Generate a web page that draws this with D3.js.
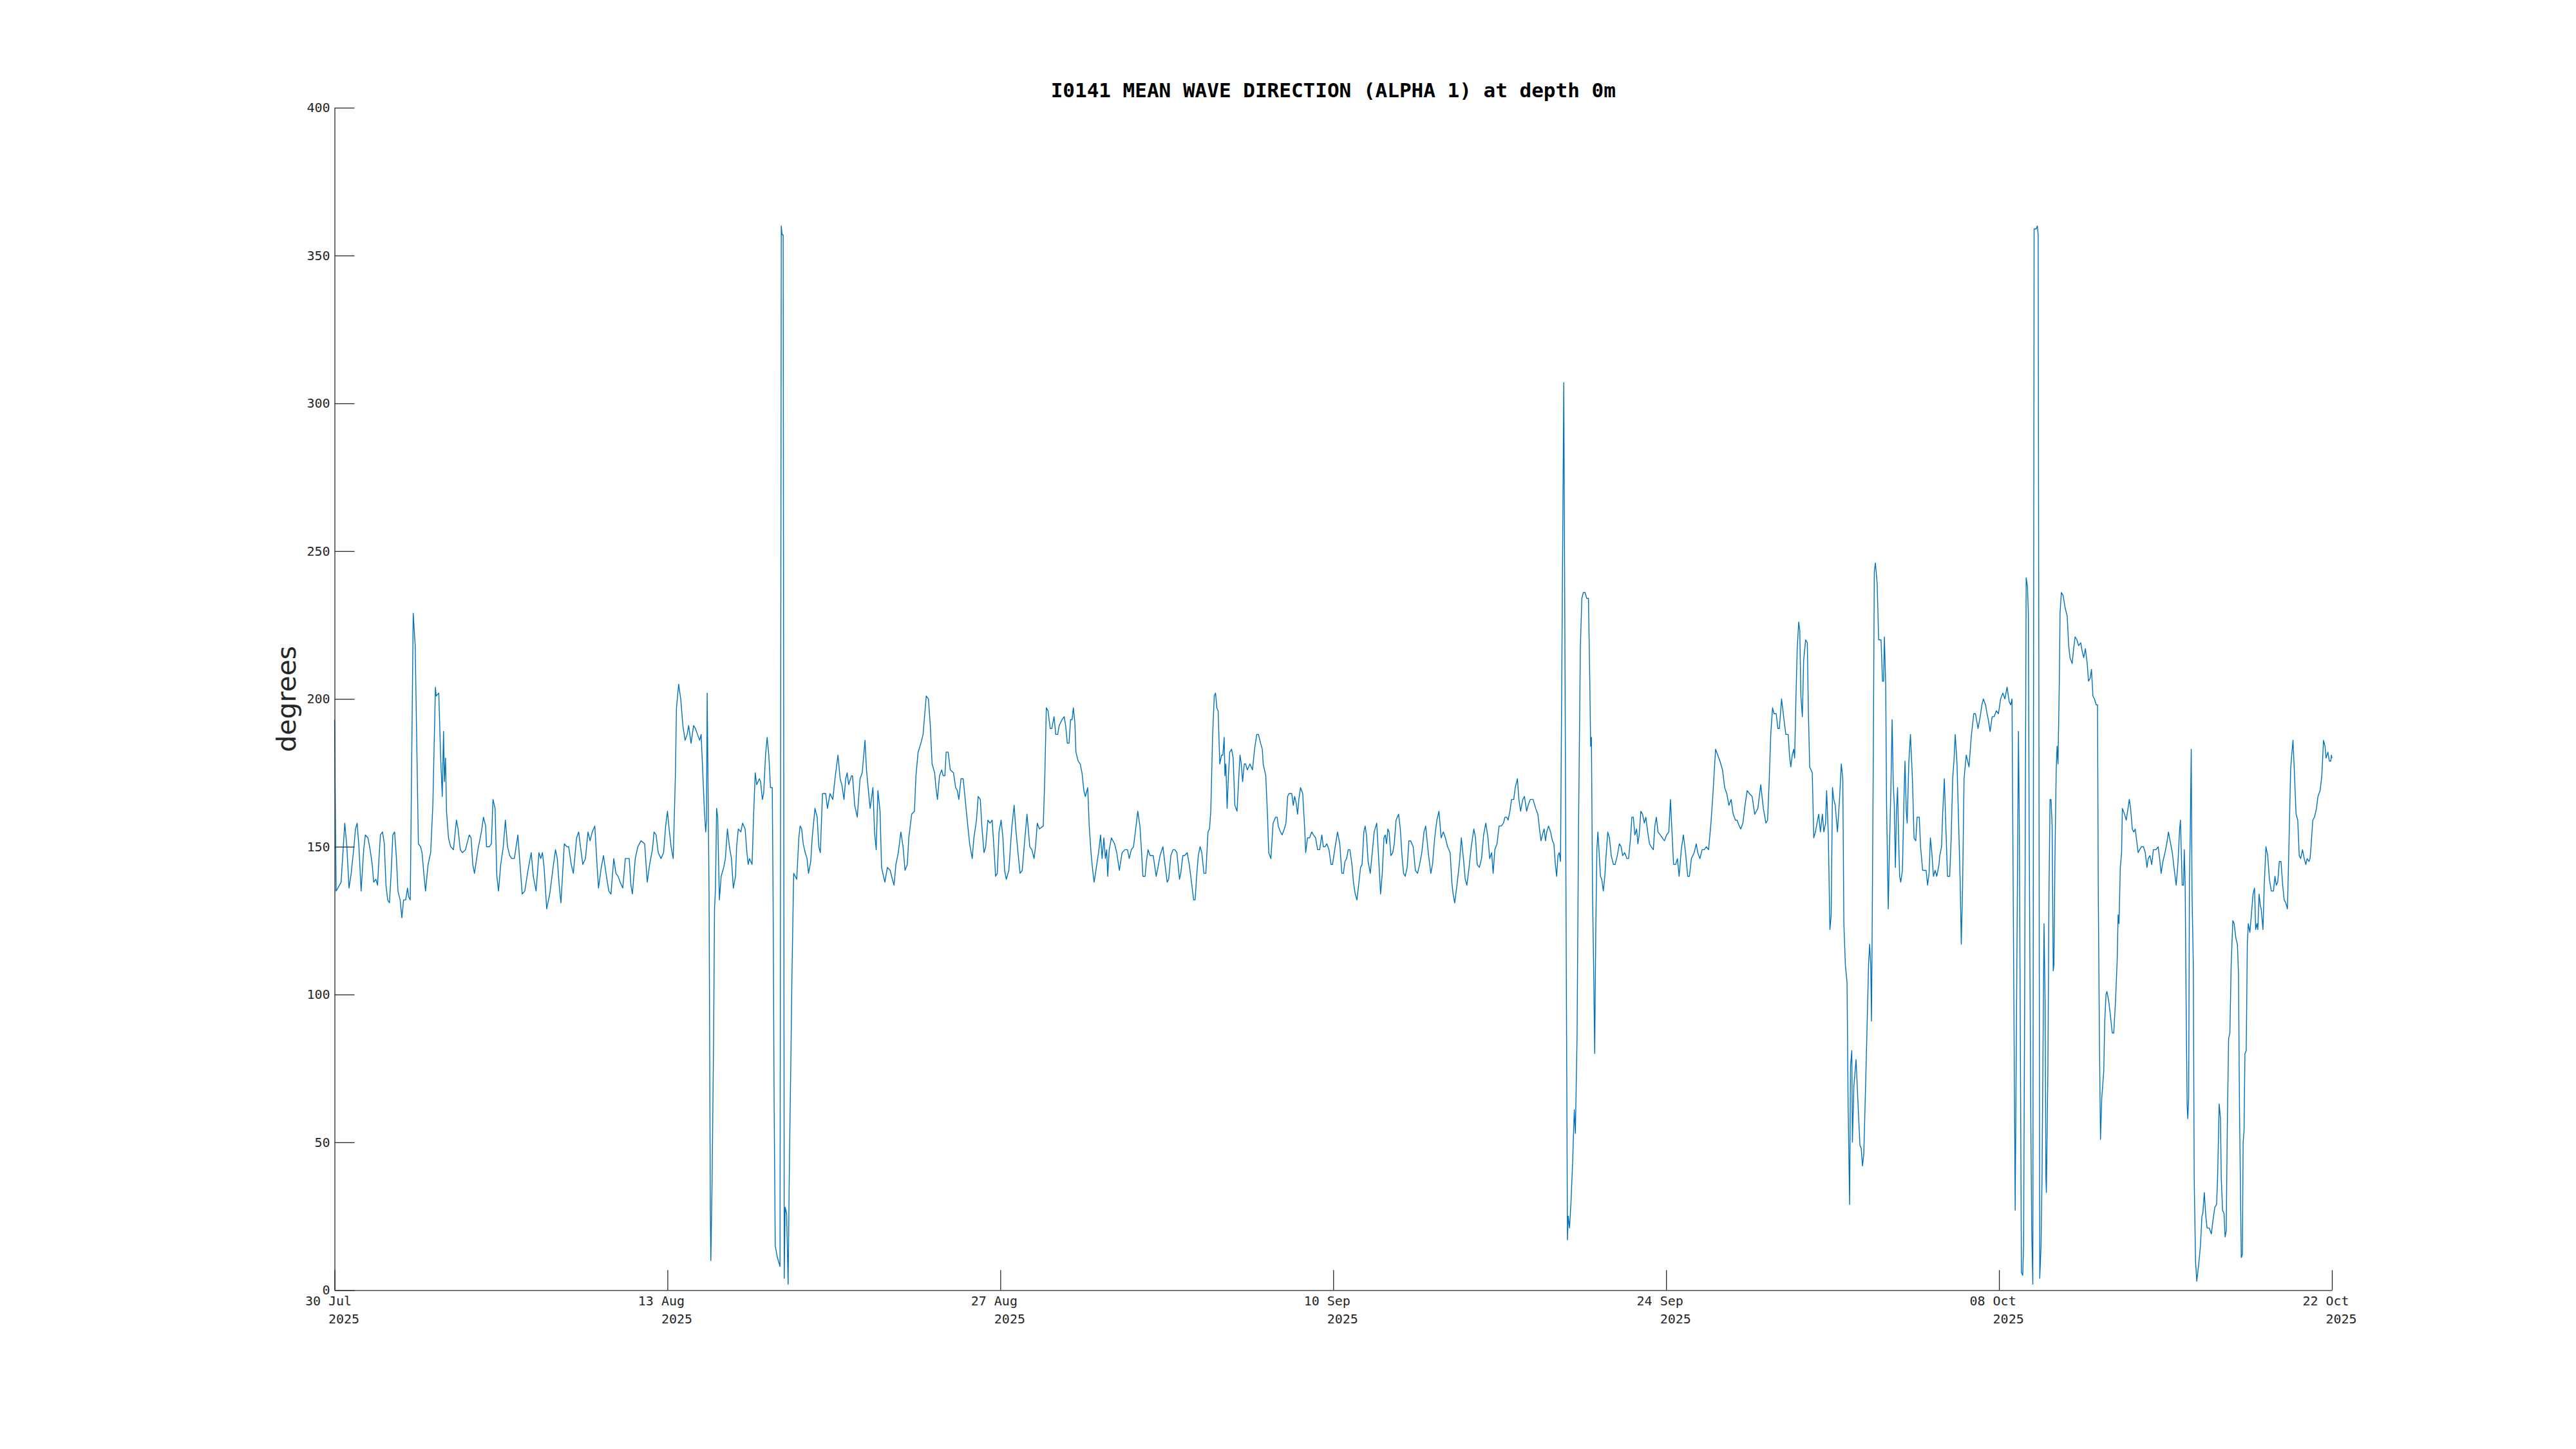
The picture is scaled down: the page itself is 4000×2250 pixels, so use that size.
<!DOCTYPE html>
<html>
<head>
<meta charset="utf-8">
<script src="https://cdn.jsdelivr.net/npm/d3@7"></script>
<style>
  html, body { margin: 0; padding: 0; background: #ffffff; }
  svg { display: block; }
</style>
</head>
<body>
<svg id="chart" width="4000" height="2250"></svg>
<script>
// ---------------- DATA ----------------
const chartTitle = "I0141 MEAN WAVE DIRECTION (ALPHA 1) at depth 0m";
const yLabel = "degrees";
const startDate = "2025-07-30T00:00:00Z";
const endDate = "2025-10-22T00:00:00Z";
const yTicks = [0, 50, 100, 150, 200, 250, 300, 350, 400];
const xTickDates = ["2025-07-30", "2025-08-13", "2025-08-27", "2025-09-10", "2025-09-24", "2025-10-08", "2025-10-22"];
const xTickDayLabels = ["30 Jul", "13 Aug", "27 Aug", "10 Sep", "24 Sep", "08 Oct", "22 Oct"];
const xTickYearLabels = ["2025", "2025", "2025", "2025", "2025", "2025", "2025"];

// [hours since 30 Jul 2025 00:00 UTC, mean wave direction in degrees]
const meanDirection = [
[0,193],[1.6,135],[3.3,136],[6.6,138],[10.3,158],[12.4,150],[14.6,136],[16.8,141],[19.6,150],[21.1,156],[22.8,158],[24.6,150],[26.8,135],[29.4,149],[31.1,154],[33.7,153],[35.9,149],[38.0,144],[39.5,138],[41.7,139],[43.4,137],[44.5,144],[46.3,154],[48.4,155],[50.2,151],[51.9,137],[53.6,132],[55.4,131],[57.1,141],[58.8,154],[60.6,155],[62.3,147],[64.0,135],[66.2,132],[67.9,126],[69.7,132],[71.8,132],[73.6,136],[74.9,133],[76.4,132],[79.4,229],[81.4,218],[84.6,151],[86.8,150],[88.3,148],[90.1,141],[91.8,135],[94.4,144],[97.0,148],[99.2,164],[101.8,204],[102.6,201],[105.2,202],[107.0,181],[108.7,167],[110.0,189],[110.9,172],[112.0,180],[113.0,162],[115.0,153],[117.2,150],[120.0,149],[123.0,159],[124.7,156],[126.9,149],[129.1,148],[132.1,149],[136.0,154],[137.8,153],[139.5,144],[141.2,141],[144.7,149],[148.2,155],[150.3,160],[152.5,157],[153.4,150],[156.2,150],[158.3,151],[159.9,166],[162.0,163],[163.8,140],[165.5,135],[167.7,144],[170.3,150],[172.4,159],[174.6,150],[176.8,147],[178.9,146],[181.5,146],[185.0,154],[187.2,144],[189.4,134],[192.0,135],[195.2,142],[198.5,148],[200.6,140],[203.4,135],
[206.3,148],[208.1,146],[209.8,148],[211.5,143],[214.1,129],[217.2,134],[220.6,143],[223.0,149],[224.8,146],[226.7,137],[228.5,131],[231.9,151],[234.5,150],[236.3,150],[238.9,144],[241.0,141],[244.3,153],[246.4,155],[248.6,149],[250.6,144],[253.2,146],[255.8,155],[257.9,152],[260.1,155],[262.7,157],[264.9,144],[266.4,136],[269.2,143],[271.4,147],[274.0,141],[276.8,135],[279.0,134],[281.8,146],[284.0,141],[286.1,140],[288.3,138],[290.9,136],[293.5,146],[297.4,146],[299.1,137],[300.6,134],[303.5,146],[306.1,150],[309.3,152],[313.0,151],[315.6,138],[318.0,144],[320.8,149],[322.5,155],[324.5,154],[326.7,148],[329.5,146],[332.1,148],[334.2,157],[336.0,162],[337.7,156],[339.7,150],[341.8,146],[344.0,174],[345.1,197],[347.3,205],[349.4,200],[351.6,191],[353.8,186],[355.9,188],[357.4,191],[359.8,185],[362.4,191],[364.2,190],[366.3,188],[368.5,186],[370.0,188],[371.8,174],[373.3,162],[374.6,155],[375.4,159],[376.1,202],[376.7,181],[378.0,134],[379.3,27],[379.8,10],[381.1,38],[382.6,86],[383.5,129],[384.5,136],[385.6,163],[386.7,160],[388.4,132],[390.2,140],[392.8,143],[394.5,146],[396.5,156],[398.6,150],[400.6,146],[402.5,136],[404.7,140],
[405.8,150],[407.5,156],[410.1,155],[411.8,158],[414.4,156],[416.2,148],[417.5,144],[418.8,146],[421.4,144],[423.1,162],[424.6,175],[426.1,171],[428.7,173],[430.0,172],[431.8,166],[433.1,168],[435.0,181],[436.6,187],[438.3,181],[440.0,170],[441.8,170],[442.6,134],[443.7,62],[444.8,15],[447.0,11],[449.6,8],[450.9,360],[451.7,357],[452.8,357],[453.9,4],[454.8,28],[456.3,26],[457.8,2],[459.1,43],[460.4,74],[461.7,107],[463.4,141],[466.5,139],[468.6,153],[469.9,157],[471.5,156],[473.0,151],[475.1,148],[476.9,146],[478.4,141],[480.6,145],[482.1,153],[484.9,163],[487.1,160],[488.8,150],[490.3,148],[492.5,168],[495.7,168],[497.5,163],[500.1,168],[502.9,166],[505.1,173],[508.1,181],[510.3,173],[512.0,171],[514.2,166],[515.9,173],[517.4,175],[518.9,171],[521.8,174],[522.8,174],[525.0,164],[527.6,160],[530.4,173],[532.6,175],[535.4,186],[536.9,176],[539.1,168],[540.6,163],[543.4,170],[545.0,155],[546.7,149],[548.4,169],[550.6,162],[552.1,143],[555.4,138],[558.0,143],[560.8,142],[563.0,139],[564.7,137],[566.6,144],[569.0,148],[571.6,155],[573.8,150],[575.8,142],[578.1,144],[579.6,153],[582.5,161],[585.3,162],[586.8,174],[589.0,182],[591.8,185],[594.0,188],[597.2,201],[599.4,200],[601.3,191],[603.1,178],[605.7,175],[607.0,170],[608.5,166],
[610.6,174],[612.8,176],[614.3,174],[616.0,174],[617.3,182],[619.3,182],[621.5,176],[624.7,175],[626.9,170],[628.6,169],[630.1,166],[632.3,173],[634.5,173],[637.7,162],[641.0,151],[643.6,146],[645.3,153],[647.9,159],[649.6,167],[651.8,166],[653.3,157],[655.5,148],[657.2,150],[659.4,159],[661.6,158],[663.7,159],[665.5,150],[667.2,140],[668.9,141],[670.7,155],[672.8,159],[674.6,153],[676.3,142],[678.0,139],[680.6,142],[682.2,150],[683.7,157],[685.9,164],[687.6,156],[689.8,148],[691.9,141],[694.1,142],[696.3,151],[698.9,161],[701.7,150],[703.8,149],[706.0,146],[707.5,150],[709.3,158],[711.4,156],[715.3,157],[716.9,174],[718.4,197],[720.1,196],[722.3,190],[724.0,190],[726.2,194],[727.9,188],[729.9,188],[731.4,191],[734.2,193],[736.4,194],[737.9,191],[739.6,185],[741.3,185],[742.9,193],[744.4,193],[745.7,197],[747.2,192],[748.3,182],[750.5,179],[752.6,178],[754.4,175],[756.3,169],[757.8,167],[760.2,170],[761.7,157],[763.5,148],[765.2,142],[766.7,138],[768.9,143],[771.1,148],[773.2,154],[774.7,146],[776.5,153],[778.0,146],[779.3,149],[780.4,140],[781.9,149],[784.1,153],[787.3,151],[789.5,148],[792.1,142],[794.9,148],[797.7,149],[800.3,149],[802.1,146],[804.2,149],[806.4,150],[808.6,156],[810.7,162],
[812.9,157],[814.4,149],[815.9,140],[818.1,140],[819.4,145],[821.1,149],[823.1,147],[826.3,147],[828.0,143],[829.3,140],[831.1,143],[833.2,147],[836.1,150],[838.2,144],[840.4,138],[841.9,139],[844.1,147],[846.3,149],[848.0,149],[850.2,148],[852.8,139],[854.1,141],[856.2,147],[858.0,147],[860.6,148],[862.7,144],[865.3,137],[867.1,132],[868.6,132],[870.1,140],[871.8,147],[873.6,150],[875.3,148],[877.5,141],[879.4,141],[881.6,155],[883.1,156],[884.4,162],[886.2,187],[887.9,201],[889.2,202],[890.5,197],[891.8,196],[893.5,178],[895.3,181],[896.6,181],[897.9,187],[898.7,174],[899.6,178],[900.9,163],[902.2,174],[903.5,182],[905.4,183],[907.0,180],[908.7,164],[910.9,162],[912.6,173],[913.9,181],[915.2,178],[916.5,172],[918.2,178],[919.5,178],[921.3,176],[923.9,178],[926.5,176],[928.6,183],[930.8,188],[932.5,188],[934.7,185],[936.4,183],[937.3,178],[939.9,174],[941.6,161],[942.9,148],[945.1,146],[947.3,158],[949.9,160],[951.4,160],[952.5,157],[954.7,155],[956.4,154],[958.6,156],[960.3,158],[962.0,167],[963.3,168],[966.1,168],[967.7,164],[969.0,167],[970.5,165],[972.0,161],[973.3,166],[975.0,170],[977.2,168],[979.2,156],[980.2,148],[982.0,153],[984.1,153],[986.3,155],[988.0,154],[990.2,153],[992.2,149],[994.3,149],[996.5,154],[998.0,150],[999.8,150],[1001.5,151],[1003.7,149],[1005.8,144],[1007.3,144],[1009.5,149],[1012.3,155],
[1014.6,151],[1016.7,141],[1018.3,141],[1019.8,145],[1021.5,146],[1023.2,149],[1024.8,149],[1026.9,144],[1028.4,138],[1030.2,134],[1031.9,132],[1033.6,137],[1035.6,143],[1037.1,144],[1038.9,155],[1040.2,157],[1041.5,154],[1043.2,145],[1045.4,141],[1047.1,147],[1049.3,155],[1051.9,158],[1054.0,145],[1055.8,134],[1057.5,141],[1059.2,153],[1060.5,154],[1061.8,151],[1063.1,156],[1064.4,155],[1066.2,147],[1068.1,148],[1069.6,151],[1071.4,159],[1074.0,161],[1075.7,156],[1077.4,147],[1079.0,141],[1080.7,140],[1082.6,143],[1084.4,152],[1086.1,152],[1088.7,150],[1090.9,142],[1093.1,141],[1095.2,144],[1097.4,148],[1099.6,155],[1101.3,157],[1103.9,148],[1106.5,141],[1108.2,144],[1110.4,153],[1112.6,159],[1114.7,162],[1116.9,153],[1119.1,155],[1121.2,153],[1123.4,150],[1126.0,148],[1127.7,138],[1129.0,134],[1130.6,131],[1132.5,136],[1134.2,141],[1135.5,145],[1137.3,153],[1139.4,146],[1141.2,139],[1142.9,137],[1145.1,143],[1147.3,150],[1149.9,156],[1151.6,153],[1153.3,144],[1155.5,143],[1157.7,146],[1159.8,154],[1162.0,158],[1164.2,153],[1165.9,146],[1167.9,148],[1169.4,141],[1171.1,149],[1173.3,151],[1175.4,157],[1177.6,157],[1179.8,158],[1181.3,160],[1183.0,160],[1184.5,159],[1186.3,162],[1188.0,166],[1190.2,166],[1191.7,170],[1193.9,173],[1195.4,166],[1197.1,162],[1199.3,166],[1201.0,167],[1203.2,162],[1204.7,164],[1206.9,166],[1209.7,166],[1212.3,163],[1214.5,161],
[1216.2,156],[1217.7,152],[1219.9,155],[1220.9,156],[1222.2,152],[1223.5,155],[1225.3,157],[1227.4,155],[1229.2,152],[1230.7,151],[1232.2,144],[1233.5,140],[1234.8,147],[1236.1,148],[1237.4,145],[1240.7,307],[1244.4,17],[1245.2,25],[1246.5,21],[1248.0,30],[1249.6,43],[1251.3,61],[1252.4,53],[1254.1,86],[1255.6,157],[1257.4,217],[1258.9,234],[1260.4,236],[1262.1,236],[1263.9,234],[1265.6,234],[1266.9,207],[1267.8,184],[1268.6,187],[1269.7,134],[1270.8,110],[1271.9,80],[1273.0,122],[1274.1,149],[1275.1,155],[1276.4,148],[1277.7,140],[1279.0,139],[1280.6,135],[1282.1,140],[1283.4,147],[1285.1,155],[1286.8,153],[1288.6,147],[1290.8,144],[1292.5,144],[1294.7,147],[1296.8,151],[1298.6,150],[1300.1,147],[1302.2,148],[1304.4,146],[1306.1,146],[1308.1,153],[1309.4,160],[1310.9,160],[1312.4,154],[1314.2,156],[1315.5,151],[1316.8,154],[1318.5,162],[1320.2,161],[1322.0,158],[1323.5,160],[1325.4,155],[1327.2,151],[1328.9,150],[1331.1,149],[1332.6,157],[1334.1,160],[1335.8,155],[1338.0,154],[1340.2,153],[1342.3,152],[1344.5,154],[1346.7,155],[1348.4,166],[1349.9,155],[1351.5,144],[1353.6,144],[1355.4,146],[1357.1,140],[1359.3,149],[1361.4,154],[1363.6,148],[1365.8,140],[1367.5,140],[1369.5,146],[1372.3,148],[1374.4,151],[1375.9,148],[1378.1,146],[1380.3,149],[1382.5,149],[1384.6,150],[1386.8,149],[1389.0,157],[1391.1,167],[1393.9,183],[1396.1,181],[1398.3,179],[1400.9,176],[1403.1,170],[1405.2,168],[1407.4,164],[1409.6,166],[1411.7,161],[1413.9,159],[1415.6,159],[1417.8,157],
[1419.3,156],[1421.5,158],[1423.6,164],[1425.8,169],[1428.0,168],[1430.8,167],[1433.4,161],[1436.6,163],[1439.5,171],[1442.1,163],[1444.7,158],[1446.4,159],[1448.1,173],[1449.6,188],[1451.4,197],[1452.9,195],[1455.1,195],[1456.8,190],[1458.3,190],[1460.5,200],[1462.6,194],[1464.8,188],[1467.2,188],[1468.5,181],[1469.8,177],[1471.3,181],[1472.8,183],[1473.7,180],[1475.0,200],[1476.3,217],[1477.8,226],[1478.9,223],[1480.0,201],[1481.5,194],[1482.8,213],[1484.8,220],[1486.5,219],[1487.6,195],[1488.9,177],[1491.5,175],[1493.0,153],[1494.7,155],[1496.3,158],[1498.0,161],[1499.7,155],[1501.7,161],[1503.2,155],[1504.9,158],[1506.0,169],[1507.7,154],[1509.3,122],[1510.6,127],[1511.9,170],[1513.2,166],[1514.7,164],[1516.9,155],[1519.0,166],[1520.8,178],[1522.3,173],[1523.4,124],[1524.9,110],[1526.6,104],[1527.7,62],[1529.2,29],[1530.1,76],[1531.4,81],[1532.0,50],[1533.5,69],[1535.7,78],[1537.4,65],[1539.6,49],[1540.9,48],[1542.2,42],[1543.5,46],[1545.0,65],[1546.6,86],[1548.3,110],[1549.4,117],[1550.5,110],[1551.3,91],[1552.2,134],[1553.1,181],[1554.1,243],[1555.2,246],[1557.0,239],[1558.5,220],[1560.9,220],[1562.4,206],[1563.5,206],[1564.3,221],[1565.6,205],[1566.5,164],[1568.2,129],[1569.3,148],[1570.8,169],[1572.1,193],[1573.2,172],[1574.3,164],[1575.4,143],[1576.5,162],[1577.6,170],[1578.6,153],[1579.7,140],[1580.8,138],[1582.5,142],[1584.1,167],[1585.1,179],[1586.4,162],[1587.3,158],[1589.0,179],[1590.6,188],[1592.7,172],[1594.2,153],[1596.0,152],[1597.3,160],[1599.5,160],[1600.8,150],[1602.9,142],[1604.7,142],[1606.4,142],[1607.9,137],[1609.4,141],[1610.7,153],[1612.2,148],[1613.8,140],[1615.5,142],[1617.2,140],[1619.4,144],
[1620.2,147],[1622.0,150],[1623.1,161],[1624.8,173],[1626.3,157],[1628.0,140],[1630.2,140],[1631.7,153],[1633.2,173],[1634.5,179],[1635.8,188],[1637.6,178],[1639.3,157],[1640.8,138],[1641.9,117],[1643.2,136],[1644.7,173],[1646.9,181],[1649.7,177],[1651.9,187],[1654.5,195],[1656.2,195],[1658.8,190],[1661.0,194],[1662.7,198],[1664.2,200],[1666.4,198],[1667.9,195],[1669.2,193],[1671.0,189],[1673.1,194],[1675.1,194],[1677.3,196],[1679.4,195],[1681.6,200],[1683.8,202],[1685.9,200],[1688.1,204],[1690.3,199],[1691.8,198],[1693.1,200],[1696.3,27],[1699.6,189],[1700.5,157],[1702.6,6],[1703.9,5],[1704.8,15],[1705.7,86],[1707.4,241],[1708.7,238],[1709.6,229],[1710.4,157],[1712.0,62],[1713.0,20],[1714.1,2],[1715.4,359],[1717.4,359],[1718.7,360],[1719.5,357],[1721.1,4],[1722.4,15],[1723.4,38],[1724.5,86],[1725.4,124],[1726.5,98],[1727.3,38],[1727.8,33],[1729.3,74],[1730.4,134],[1731.5,166],[1732.5,166],[1733.6,157],[1734.7,108],[1735.4,110],[1736.4,145],[1737.7,176],[1738.6,184],[1739.5,178],[1740.8,205],[1741.6,229],[1742.9,236],[1744.7,235],[1746.6,231],[1748.8,228],[1750.3,218],[1751.6,214],[1753.8,212],[1755.3,217],[1756.8,221],[1758.6,220],[1760.3,218],[1762.5,219],[1764.0,216],[1765.5,214],[1767.2,217],[1769.0,212],[1770.3,206],[1772.0,207],[1773.3,210],[1774.8,201],[1776.3,200],[1778.1,198],[1779.4,198],[1780.2,134],[1781.3,86],[1782.4,51],[1783.7,65],[1785.7,74],[1786.7,91],[1788.0,100],[1788.9,101],[1790.6,98],[1792.4,93],[1794.3,87],[1795.8,87],[1797.6,98],[1799.3,112],[1800.2,127],[1801.1,124],[1802.4,143],[1803.7,148],[1804.5,163],[1806.7,161],[1808.4,159],[1810.2,163],[1811.5,166],[1812.8,163],[1814.5,156],[1816.0,155],[1817.5,156],[1819.3,151],
[1820.4,148],[1821.9,149],[1823.7,150],[1825.8,150],[1827.6,148],[1829.3,143],[1830.6,146],[1832.3,147],[1834.1,144],[1835.8,149],[1838.4,149],[1840.6,150],[1842.1,146],[1843.6,141],[1845.4,145],[1847.5,148],[1849.3,151],[1851.0,155],[1853.2,151],[1854.9,148],[1856.6,143],[1858.8,137],[1860.5,144],[1862.3,156],[1863.1,159],[1864.9,137],[1866.2,137],[1867.0,149],[1867.9,137],[1868.8,98],[1869.9,62],[1870.5,58],[1871.4,65],[1872.2,138],[1873.1,157],[1874.0,183],[1874.8,134],[1876.1,110],[1877.0,38],[1878.3,10],[1879.6,3],[1881.3,8],[1883.3,15],[1884.8,25],[1885.7,26],[1887.2,33],[1888.7,25],[1890.0,21],[1892.2,21],[1894.3,19],[1896.1,24],[1897.8,28],[1899.6,29],[1900.6,38],[1902.2,63],[1903.5,58],[1904.3,38],[1905.6,27],[1907.1,26],[1908.2,18],[1909.3,20],[1910.4,55],[1911.7,85],[1913.0,87],[1914.3,110],[1916.0,125],[1917.3,124],[1919.1,119],[1920.6,117],[1921.7,107],[1922.7,62],[1924.5,11],[1925.6,12],[1926.4,50],[1927.3,54],[1928.2,80],[1929.5,81],[1930.6,117],[1931.6,124],[1933.2,121],[1934.7,127],[1936.4,134],[1937.9,136],[1939.0,122],[1940.3,124],[1941.2,122],[1942.5,134],[1943.8,130],[1944.6,129],[1946.4,122],[1947.7,137],[1949.4,150],[1951.2,147],[1952.9,139],[1954.8,135],[1957.0,135],[1958.5,140],[1959.8,137],[1961.3,138],[1962.9,145],[1964.6,145],[1966.3,137],[1967.8,132],[1969.4,131],[1971.1,129],[1972.8,153],[1974.3,176],[1975.4,181],[1976.7,186],[1978.0,176],[1979.8,161],[1981.5,159],[1983.0,147],[1984.5,146],[1986.3,149],[1988.0,146],[1989.7,144],[1991.0,146],[1992.8,145],[1993.9,146],[1994.9,150],[1996.7,159],[1998.4,160],[2000.4,163],[2001.9,167],[2004.1,169],[2005.8,174],[2007.5,186],[2009.0,184],[2010.1,180],[2011.9,182],[2013.4,179],[2014.9,179],[2015.5,181],[2016.0,180]
];

(function () {
// ---------------- LAYOUT ----------------
const W = 4000, H = 2250;
const plotLeft = 519.5, plotRight = 3621, plotTop = 167.3, plotBottom = 2003.3;
const tickLen = 31;
const axisColor = "#262626";
const lineColor = "#0072BD";
const monoFont = "'DejaVu Sans Mono', 'Liberation Mono', monospace";
const sansFont = "'DejaVu Sans', 'Liberation Sans', sans-serif";

const svg = d3.select("#chart");
svg.append("rect").attr("width", W).attr("height", H).attr("fill", "#ffffff");

const t0 = new Date(startDate);
const x = d3.scaleUtc().domain([t0, new Date(endDate)]).range([plotLeft, plotRight]);
const y = d3.scaleLinear().domain([0, 400]).range([plotBottom, plotTop]);

const parseDay = d3.utcParse("%Y-%m-%d");
const xTickValues = xTickDates.map(parseDay);

// Series line
const line = d3.line()
  .x(d => x(new Date(t0.getTime() + d[0] * 3600e3)))
  .y(d => y(d[1]));

svg.append("path")
  .datum(meanDirection)
  .attr("fill", "none")
  .attr("stroke", lineColor)
  .attr("stroke-width", 1.4)
  .attr("stroke-linejoin", "round")
  .attr("d", line);

// Y axis (ticks pointing inward)
const yAxis = d3.axisLeft(y)
  .tickValues(yTicks)
  .tickSizeInner(-tickLen)
  .tickSizeOuter(0)
  .tickPadding(7)
  .tickFormat(d3.format("d"));

const gy = svg.append("g")
  .attr("transform", `translate(${plotLeft},0)`)
  .call(yAxis);
gy.select(".domain").attr("stroke", axisColor).attr("stroke-width", 1.3);
gy.selectAll(".tick line").attr("stroke", axisColor).attr("stroke-width", 1.3);
gy.selectAll(".tick text")
  .attr("fill", axisColor)
  .style("font-family", monoFont)
  .style("font-size", "20px");

// X axis (ticks pointing inward)
const xAxis = d3.axisBottom(x)
  .tickValues(xTickValues)
  .tickSizeInner(-tickLen)
  .tickSizeOuter(0)
  .tickFormat("");

const gx = svg.append("g")
  .attr("transform", `translate(0,${plotBottom})`)
  .call(xAxis);
gx.select(".domain").attr("stroke", axisColor).attr("stroke-width", 1.3);
gx.selectAll(".tick line").attr("stroke", axisColor).attr("stroke-width", 1.3);
gx.selectAll(".tick text").remove();

// Two-line date labels
const labelG = svg.append("g")
  .style("font-family", monoFont)
  .style("font-size", "20px")
  .attr("fill", axisColor);

xTickValues.forEach((d, i) => {
  const xp = x(d) - 9.5;
  labelG.append("text")
    .attr("x", xp)
    .attr("y", plotBottom + 24)
    .attr("text-anchor", "middle")
    .text(xTickDayLabels[i]);
  labelG.append("text")
    .attr("x", xp)
    .attr("y", plotBottom + 52)
    .attr("text-anchor", "start")
    .text(xTickYearLabels[i]);
});

// Title
svg.append("text")
  .attr("x", (plotLeft + plotRight) / 2)
  .attr("y", 151)
  .attr("text-anchor", "middle")
  .style("font-family", monoFont)
  .style("font-weight", "bold")
  .style("font-size", "31px")
  .attr("fill", "#000000")
  .text(chartTitle);

// Y label
svg.append("text")
  .attr("transform", `translate(459,${(plotTop + plotBottom) / 2}) rotate(-90)`)
  .attr("text-anchor", "middle")
  .style("font-family", sansFont)
  .style("font-size", "41px")
  .attr("fill", axisColor)
  .text(yLabel);
})();
</script>
</body>
</html>
